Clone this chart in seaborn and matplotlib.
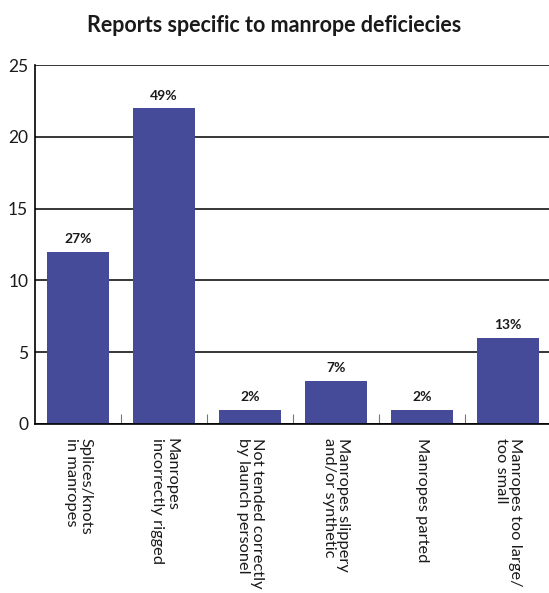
import numpy as np
import pandas as pd
import seaborn as sns
import matplotlib.pyplot as plt
from matplotlib.ticker import FixedLocator

categories = [
    "Splices/knots\nin manropes",
    "Manropes\nincorrectly rigged",
    "Not tended correctly\nby launch personel",
    "Manropes slippery\nand/or synthetic",
    "Manropes parted",
    "Manropes too large/\ntoo small",
]
counts = [12, 22, 1, 3, 1, 6]
pct_labels = ["27%", "49%", "2%", "7%", "2%", "13%"]
yticks = [0, 5, 10, 15, 20, 25]

sns.set_style("white")
plt.rcParams["font.family"] = ["Lato", "DejaVu Sans"]

df = pd.DataFrame({"cat": categories, "n": counts})

fig = plt.figure(figsize=(5.49, 5.93), dpi=100)
ax = fig.add_axes([0.064, 0.285, 0.94, 0.605])

ax.yaxis.grid(True, color="black", linewidth=1.1)
ax.set_axisbelow(True)
sns.barplot(data=df, x="cat", y="n", color="#454b99", saturation=1, width=0.72,
            linewidth=0, ax=ax)

for i, (v, lab) in enumerate(zip(counts, pct_labels)):
    ax.text(i, v + 0.45, lab, ha="center", va="bottom", fontsize=10, fontweight="bold", color="#1a1a1a")

ax.set_ylim(0, 25)
ax.set_xlim(-0.5, 5.5)
ax.set_yticks(yticks)
ax.tick_params(axis="y", labelsize=12.5, length=0, pad=5, colors="#1a1a1a")
ax.set_xticks(range(len(categories)))
ax.set_xticklabels(categories, rotation=-90, ha="center", va="top", fontsize=11.8,
                   multialignment="left", linespacing=1.05, color="#1a1a1a")
ax.tick_params(axis="x", length=0, pad=10)
ax.xaxis.set_minor_locator(FixedLocator(np.arange(0.5, 5.5, 1)))
ax.tick_params(axis="x", which="minor", direction="in", length=7, width=0.8, color="#777777", bottom=True)
ax.set_xlabel("")
ax.set_ylabel("")

for s in ["top", "right"]:
    ax.spines[s].set_visible(False)
for s in ["left", "bottom"]:
    ax.spines[s].set_color("black")
    ax.spines[s].set_linewidth(1.2)

fig.suptitle("Reports specific to manrope deficiecies", x=0.5, y=0.975, fontsize=15.5, fontweight="bold",
             color="#1a1a1a")

fig.savefig("out.png", dpi=100)
